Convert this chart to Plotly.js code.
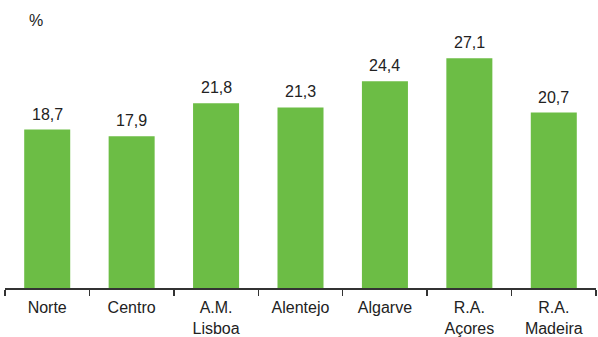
<!DOCTYPE html>
<html>
<head>
<meta charset="utf-8">
<script src="https://cdn.plot.ly/plotly-3.0.1.min.js"></script>
<style>
html,body{margin:0;padding:0;background:#fff;}
#chart{width:598px;height:337px;}
</style>
</head>
<body>
<div id="chart"></div>
<script>
const categories = ["Norte", "Centro", "A.M.<br>Lisboa", "Alentejo", "Algarve", "R.A.<br>Açores", "R.A.<br>Madeira"];
const values = [18.7, 17.9, 21.8, 21.3, 24.4, 27.1, 20.7];
const unitLabel = "%";

const FONT = "Liberation Sans, Arial, sans-serif";
const TEXT_COLOR = "#222222";

const trace = {
  type: "bar",
  x: categories,
  y: values,
  width: 0.545,
  marker: {color: "#6cbd45", line: {width: 0}},
  hoverinfo: "skip"
};

const annotations = categories.map((c, i) => ({
  x: c,
  y: values[i],
  xref: "x",
  yref: "y",
  text: values[i].toFixed(1).replace(".", ","),
  showarrow: false,
  yanchor: "bottom",
  yshift: 5,
  font: {family: FONT, size: 16, color: TEXT_COLOR}
}));

// convert "%" position from pixels to paper coords
const pw = 598 - 5 - 2, ph = 337 - 10 - 49;
annotations.push({
  x: (36 - 5) / pw,
  y: (337 - 49 - 21) / ph,
  xref: "paper",
  yref: "paper",
  xanchor: "center",
  yanchor: "middle",
  text: unitLabel,
  showarrow: false,
  font: {family: FONT, size: 16, color: TEXT_COLOR}
});

const layout = {
  width: 598,
  height: 337,
  margin: {l: 5, r: 2, t: 10, b: 49, pad: 0},
  paper_bgcolor: "#ffffff",
  plot_bgcolor: "#ffffff",
  showlegend: false,
  font: {family: FONT, size: 16, color: TEXT_COLOR},
  xaxis: {
    type: "category",
    range: [-0.5, 6.5],
    showline: true,
    linecolor: "#333333",
    linewidth: 1.5,
    ticks: "outside",
    tickson: "boundaries",
    ticklen: 6,
    tickwidth: 1.5,
    tickcolor: "#333333",
    ticklabelstandoff: 4,
    showgrid: false,
    zeroline: false,
    tickfont: {family: FONT, size: 16, color: TEXT_COLOR},
    fixedrange: true
  },
  yaxis: {
    range: [0, 32.8],
    visible: false,
    showgrid: false,
    zeroline: false,
    fixedrange: true
  },
  annotations: annotations
};

Plotly.newPlot("chart", [trace], layout, {displayModeBar: false, staticPlot: true});
</script>
</body>
</html>
